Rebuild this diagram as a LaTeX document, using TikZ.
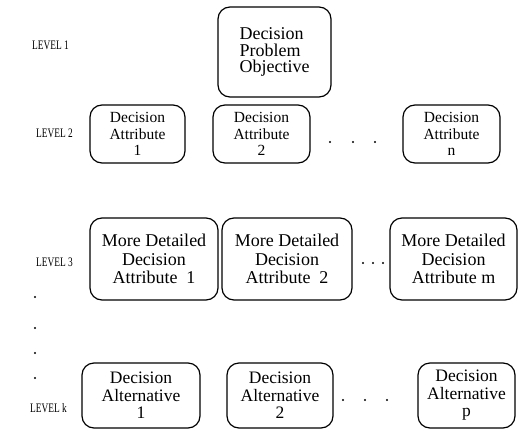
\documentclass[tikz,border=0pt]{standalone}
\usepackage{fontspec}
\setmainfont{Liberation Serif}
\newfontfamily\lvfont[FakeStretch=0.72]{Liberation Serif}
\begin{document}
\begin{tikzpicture}[x=1pt,y=-1pt,
  box/.style={draw, line width=1.2pt, rounded corners=12pt, inner sep=0pt, align=center},
  lvl/.style={anchor=west, inner sep=0pt, font=\lvfont\fontsize{13}{13}\selectfont},
  dotmark/.style={circle, fill, inner sep=0pt, minimum size=2.2pt}]
\useasboundingbox (0,0) rectangle (519,431);
% Level labels
\node[lvl] (l1) at (32,45) {LEVEL 1};
\node[lvl] (l2) at (36,133) {LEVEL 2};
\node[lvl] (l3) at (36,262) {LEVEL 3};
\node[lvl] (lk) at (30,408) {LEVEL k};
% Level 1
\node[box, minimum width=113, minimum height=90, align=left, font=\fontsize{18}{16.5}\selectfont] (obj) at (274.5,52) {Decision\\Problem\\Objective};
% Level 2
\node[box, minimum width=95, minimum height=58, font=\fontsize{15.5}{16.5}\selectfont] (a1) at (137.5,134) {Decision\\Attribute\\1};
\node[box, minimum width=97, minimum height=58, font=\fontsize{15.5}{16.5}\selectfont] (a2) at (261.5,134) {Decision\\Attribute\\2};
\node[box, minimum width=97, minimum height=58, font=\fontsize{15.5}{16.5}\selectfont] (an) at (451.5,134) {Decision\\Attribute\\n};
\node[dotmark] (d2a) at (330,142) {};
\node[dotmark] (d2b) at (353,142) {};
\node[dotmark] (d2c) at (375,142) {};
% Level 3
\node[box, minimum width=128, minimum height=82, font=\fontsize{18}{18.5}\selectfont] (m1) at (154,259) {More Detailed\\Decision\\Attribute~~1};
\node[box, minimum width=130, minimum height=82, font=\fontsize{18}{18.5}\selectfont] (m2) at (287,259) {More Detailed\\Decision\\Attribute~~2};
\node[box, minimum width=127, minimum height=82, font=\fontsize{18}{18.5}\selectfont] (mm) at (453.5,259) {More Detailed\\Decision\\Attribute m};
\node[dotmark] (d3a) at (363,263) {};
\node[dotmark] (d3b) at (373,263) {};
\node[dotmark] (d3c) at (383,263) {};
% vertical dots
\node[dotmark] (v1) at (35,297) {};
\node[dotmark] (v2) at (35,328) {};
\node[dotmark] (v3) at (35,353) {};
\node[dotmark] (v4) at (35,378) {};
% Level k
\node[box, minimum width=118, minimum height=65, font=\fontsize{17.5}{17.5}\selectfont] (k1) at (141,395.5) {Decision\\Alternative\\1};
\node[box, minimum width=106, minimum height=65, font=\fontsize{17.5}{17.5}\selectfont] (k2) at (280,395.5) {Decision\\Alternative\\2};
\node[box, minimum width=97, minimum height=65, font=\fontsize{17.5}{17.5}\selectfont] (kp) at (466.5,395.5) {Decision\\Alternative\\p};
\node[dotmark] (dka) at (343,400) {};
\node[dotmark] (dkb) at (365,400) {};
\node[dotmark] (dkc) at (387,400) {};
\end{tikzpicture}
\end{document}
